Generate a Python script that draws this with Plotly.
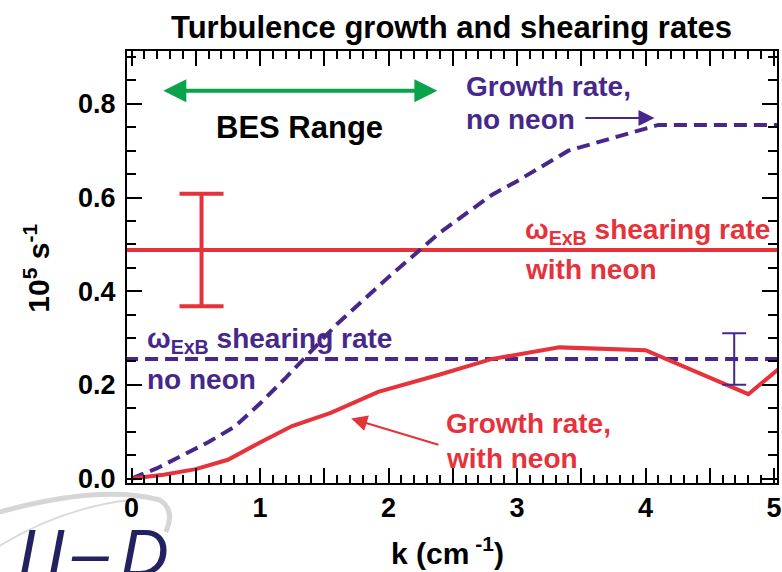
import plotly.graph_objects as go

# ---------------- data ----------------
k_no_neon = [0.0, 0.2, 0.4, 0.6, 0.8, 1.0, 1.2, 1.6, 2.0, 2.4, 2.8, 3.0, 3.4, 4.1, 5.05]
growth_no_neon = [0.0, 0.022, 0.05, 0.078, 0.11, 0.16, 0.215, 0.33, 0.43, 0.525, 0.605, 0.635,
                  0.70, 0.755, 0.755]

k_neon = [0.0, 0.25, 0.5, 0.75, 1.0, 1.25, 1.55, 1.92, 2.4, 2.8, 3.33, 4.0, 4.8, 5.05]
growth_neon = [0.0, 0.008, 0.02, 0.04, 0.077, 0.112, 0.14, 0.185, 0.222, 0.255, 0.28, 0.274,
               0.18, 0.237]

k_span = [-0.05, 5.1]
shear_neon = 0.488
shear_neon_err = 0.12
shear_neon_err_k = 0.545
shear_no_neon = 0.255
shear_no_neon_err = 0.055
shear_no_neon_err_k = 4.69

bes_range = [0.236, 2.38]

x_tickvals = [0, 0.5, 1, 1.5, 2, 2.5, 3, 3.5, 4, 4.5, 5]
x_ticktext = ["0", "", "1", "", "2", "", "3", "", "4", "", "5"]
y_tickvals = [0.0, 0.2, 0.4, 0.6, 0.8]
y_ticktext = ["0.0", "0.2", "0.4", "0.6", "0.8"]

# ---------------- style ----------------
RED = "#E5323B"
PURPLE = "#46288A"
GREEN = "#0AA24A"
NAVY = "#23215F"
FONT = "Liberation Sans, Arial, sans-serif"

W_FIG, H_FIG = 782, 572
L, R, T, B = 127, 782, 51, 483
PW, PH = R - L, B - T
XR = [-0.035, 5.023]
YR = [-0.0096, 0.9129]


def pxx(p):
    return (p - L) / PW


def pxy(p):
    return (B - p) / PH


fig = go.Figure()

# horizontal shearing-rate lines
fig.add_trace(go.Scatter(x=k_span, y=[shear_neon] * 2, mode="lines",
                         line=dict(color=RED, width=4), showlegend=False))
fig.add_trace(go.Scatter(x=k_span, y=[shear_no_neon] * 2, mode="lines",
                         line=dict(color=PURPLE, width=4, dash="13px,7px"), showlegend=False))

# growth rates
fig.add_trace(go.Scatter(x=k_no_neon, y=growth_no_neon, mode="lines",
                         line=dict(color=PURPLE, width=4, dash="13px,7px"), showlegend=False))
fig.add_trace(go.Scatter(x=k_neon, y=growth_neon, mode="lines",
                         line=dict(color=RED, width=4), showlegend=False))

# error bars
fig.add_trace(go.Scatter(x=[shear_neon_err_k], y=[shear_neon], mode="markers",
                         marker=dict(size=1, opacity=0),
                         error_y=dict(type="data", array=[shear_neon_err], visible=True,
                                      color=RED, thickness=4, width=22),
                         showlegend=False))
fig.add_trace(go.Scatter(x=[shear_no_neon_err_k], y=[shear_no_neon], mode="markers",
                         marker=dict(size=1, opacity=0),
                         error_y=dict(type="data", array=[shear_no_neon_err], visible=True,
                                      color=PURPLE, thickness=2, width=12),
                         showlegend=False))

annotations = []


def text(s, left, baseline, size, color, xanchor="left", bold=True):
    annotations.append(dict(
        text=s, xref="paper", yref="paper", x=pxx(left),
        y=pxy(baseline - 0.905 * size - 1),
        xanchor=xanchor, yanchor="top", showarrow=False,
        font=dict(family=FONT, size=size, color=color, weight="bold" if bold else "normal")))


# title
text("Turbulence growth and shearing rates", 454, 37, 31, "black", xanchor="center")
# BES range
text("BES Range", 301, 137, 31, "black", xanchor="center")
# purple growth label
text("Growth rate,", 467, 95, 28, PURPLE)
text("no neon", 467, 128, 28, PURPLE)
# red shear label
text("ω<sub>ExB</sub> shearing rate", 526, 238, 28, RED)
text("with neon", 526, 278, 28, RED)
# purple shear label
text("ω<sub>ExB</sub> shearing rate", 145, 347, 28, PURPLE)
text("no neon", 145, 388, 28, PURPLE)
# red growth label
text("Growth rate,", 446, 432, 28, RED)
text("with neon", 446, 467, 28, RED)

# axis titles
annotations.append(dict(text="k (cm<sup> -1</sup>)", xref="paper", yref="paper",
                        x=pxx(450), y=pxy(572), xanchor="center", yanchor="bottom",
                        showarrow=False,
                        font=dict(family=FONT, size=30, color="black", weight="bold")))
annotations.append(dict(text="10<sup>5</sup> s<sup>-1</sup>", xref="paper", yref="paper",
                        x=pxx(36), y=pxy(268), xanchor="center", yanchor="middle",
                        textangle=-90, showarrow=False,
                        font=dict(family=FONT, size=30, color="black", weight="bold")))

# green double arrow (BES range)
annotations.append(dict(x=bes_range[1], y=0.828, ax=bes_range[0], ay=0.828,
                        xref="x", yref="y", axref="x", ayref="y", text="",
                        showarrow=True, arrowside="end+start", arrowhead=2,
                        startarrowhead=2, arrowwidth=4, arrowsize=1.15,
                        startarrowsize=1.15, arrowcolor=GREEN))
# purple pointer arrow
annotations.append(dict(x=4.07, y=0.77, ax=3.52, ay=0.77,
                        xref="x", yref="y", axref="x", ayref="y", text="",
                        showarrow=True, arrowhead=2, arrowwidth=2, arrowsize=1.6,
                        arrowcolor=PURPLE))
# red pointer arrow
annotations.append(dict(x=1.71, y=0.128, ax=2.40, ay=0.071,
                        xref="x", yref="y", axref="x", ayref="y", text="",
                        showarrow=True, arrowhead=2, arrowwidth=2, arrowsize=1.6,
                        arrowcolor=RED))

# DIII-D logo glyphs (partially cut off at the corner)
logo_glyphs = [("I", 26), ("I", 55), ("–", 90), ("D", 145)]
for g, cx in logo_glyphs:
    annotations.append(dict(text=g, xref="paper", yref="paper",
                            x=pxx(cx), y=pxy(514), xanchor="center", yanchor="top",
                            showarrow=False,
                            font=dict(family=FONT, size=66, color=NAVY, style="italic")))


def path_px(cmds):
    out = []
    for c in cmds:
        if isinstance(c, str):
            out.append(c)
        else:
            out.append(f"{pxx(c[0]):.5f},{pxy(c[1]):.5f}")
    return " ".join(out)


shapes = [
    dict(type="path", xref="paper", yref="paper", layer="below",
         path=path_px(["M", (-5, 513), "Q", (100, 484), (160, 500), "Q", (176, 510), (166, 532)]),
         line=dict(color="#D6D6D6", width=5)),
    dict(type="path", xref="paper", yref="paper", layer="below",
         path=path_px(["M", (-5, 548), "Q", (60, 508), (130, 500)]),
         line=dict(color="#DADADA", width=2)),
]

axis_common = dict(showline=True, linewidth=2, linecolor="black", mirror="allticks",
                   ticks="inside", tickwidth=2, tickcolor="black", showgrid=False,
                   zeroline=False, ticklabeloverflow="allow",
                   tickfont=dict(family=FONT, size=27, color="black", weight="bold"))

fig.update_layout(
    width=W_FIG, height=H_FIG,
    margin=dict(l=L, r=W_FIG - R, t=T, b=H_FIG - B),
    paper_bgcolor="white", plot_bgcolor="white",
    showlegend=False,
    annotations=annotations,
    shapes=shapes,
    xaxis=dict(range=XR, tickmode="array", tickvals=x_tickvals, ticktext=x_ticktext,
               ticklen=15, ticklabelstandoff=0,
               minor=dict(dtick=0.1, ticklen=8, tickwidth=2, tickcolor="black", ticks="inside"),
               **axis_common),
    yaxis=dict(range=YR, tickmode="array", tickvals=y_tickvals, ticktext=y_ticktext,
               ticklen=15, ticklabelstandoff=4,
               minor=dict(dtick=0.05, ticklen=9, tickwidth=2, tickcolor="black", ticks="inside"),
               **axis_common),
)

fig.write_html("out.html")
